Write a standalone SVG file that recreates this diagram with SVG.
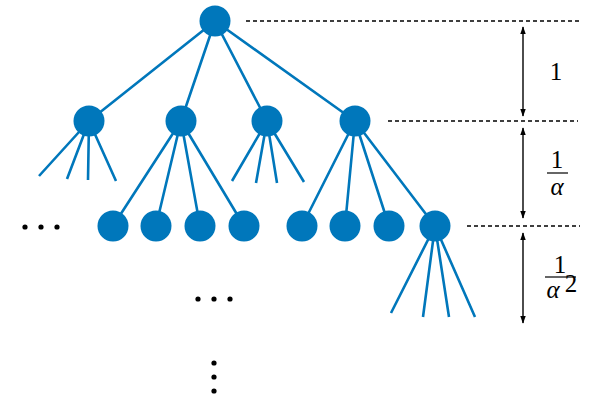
<svg xmlns="http://www.w3.org/2000/svg" width="598" height="409" viewBox="0 0 598 409">
<style>
.e{stroke:#0077BB;stroke-width:2.6;fill:none;stroke-linecap:butt}
.n{fill:#0077BB}
.d{stroke:#000;stroke-width:1.4;stroke-dasharray:4 3;fill:none}
.a{stroke:#000;stroke-width:1.4;fill:none;marker-start:url(#ah);marker-end:url(#ah)}
.t{font-family:"Liberation Serif",serif;font-size:25px;fill:#000;text-anchor:middle}
.dot{fill:#000}
</style>
<defs>
<marker id="ah" viewBox="0 0 10 10" refX="9" refY="5" markerWidth="8" markerHeight="8" orient="auto-start-reverse" markerUnits="userSpaceOnUse">
<path d="M0,1.5 L10,5 L0,8.5 Z" fill="#000"/>
</marker>
</defs>
<g id="connectors">
<path class="e" d="M215,21 L89,121 M215,21 L181,121 M215,21 L267,121 M215,21 L355,121"/>
<path class="e" d="M89,121 L39,176 M89,121 L67,179 M89,121 L88,180 M89,121 L116,181"/>
<path class="e" d="M181,121 L113,226 M181,121 L156,226 M181,121 L200,226 M181,121 L244,226"/>
<path class="e" d="M267,121 L232,181 M267,121 L256,183 M267,121 L277,183 M267,121 L304,182"/>
<path class="e" d="M355,121 L302,226 M355,121 L345,226 M355,121 L389,226 M355,121 L435,226"/>
<path class="e" d="M435,226 L391,313 M435,226 L423,317 M435,226 L449,317 M435,226 L475,317"/>
</g>
<g id="root"><circle class="n" cx="215" cy="21" r="15.5"/></g>
<g id="n1"><circle class="n" cx="89" cy="121" r="15.5"/></g>
<g id="n2"><circle class="n" cx="181" cy="121" r="15.5"/></g>
<g id="n3"><circle class="n" cx="267" cy="121" r="15.5"/></g>
<g id="n4"><circle class="n" cx="355" cy="121" r="15.5"/></g>
<g id="n21"><circle class="n" cx="113" cy="226" r="15.5"/></g>
<g id="n22"><circle class="n" cx="156" cy="226" r="15.5"/></g>
<g id="n23"><circle class="n" cx="200" cy="226" r="15.5"/></g>
<g id="n24"><circle class="n" cx="244" cy="226" r="15.5"/></g>
<g id="n41"><circle class="n" cx="302" cy="226" r="15.5"/></g>
<g id="n42"><circle class="n" cx="345" cy="226" r="15.5"/></g>
<g id="n43"><circle class="n" cx="389" cy="226" r="15.5"/></g>
<g id="n44"><circle class="n" cx="435" cy="226" r="15.5"/></g>
<g id="ellipses">
<circle class="dot" cx="25" cy="227" r="2.6"/><circle class="dot" cx="41" cy="227" r="2.6"/><circle class="dot" cx="57" cy="227" r="2.6"/>
<circle class="dot" cx="198" cy="299" r="2.6"/><circle class="dot" cx="214" cy="299" r="2.6"/><circle class="dot" cx="230" cy="299" r="2.6"/>
<circle class="dot" cx="214" cy="363" r="2.6"/><circle class="dot" cx="214" cy="377" r="2.6"/><circle class="dot" cx="214" cy="391" r="2.6"/>
</g>
<g id="levels">
<path class="d" d="M246,21 H580 M388,121 H578 M467,226 H580"/>
<path class="a" d="M523,27 V116"/>
<path class="a" d="M523,128 V218"/>
<path class="a" d="M523,233 V323"/>
<text class="t" x="556" y="80">1</text>
<text class="t" x="557" y="168">1</text>
<line x1="547" y1="173" x2="568" y2="173" stroke="#000" stroke-width="1.2"/>
<text class="t" x="557" y="195" font-style="italic">α</text>
<text class="t" x="560" y="273">1</text>
<line x1="545" y1="277" x2="576" y2="277" stroke="#000" stroke-width="1.2"/>
<text class="t" x="553" y="298" font-style="italic">α</text>
<text class="t" x="571" y="292" font-size="15">2</text>
</g>
</svg>
